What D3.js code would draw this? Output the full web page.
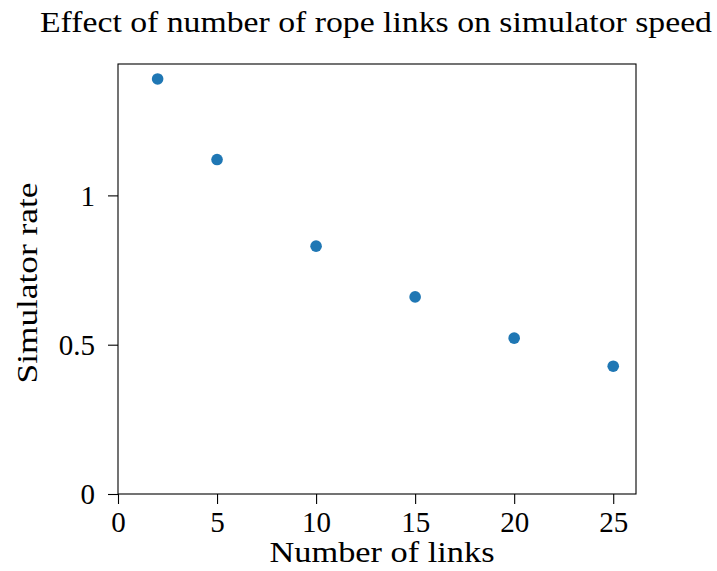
<!DOCTYPE html>
<html>
<head>
<meta charset="utf-8">
<script src="https://cdn.jsdelivr.net/npm/d3@7"></script>
<style>
  body { margin: 0; background: #fff; }
</style>
</head>
<body>
<svg id="chart" width="717" height="571"></svg>
<script>
// data
var links = [2, 5, 10, 15, 20, 25];
var rates = [1.39, 1.12, 0.83, 0.66, 0.522, 0.428];
var xTicks = [0, 5, 10, 15, 20, 25];
var yTicks = [0, 0.5, 1];

var FONT = "Liberation Serif, Times New Roman, serif";

var W = 717, H = 571,
    m = {left: 118, right: 81, top: 64, bottom: 77},
    w = W - m.left - m.right,
    h = H - m.top - m.bottom;

var svg = d3.select("#chart");
var g = svg.append("g").attr("transform", "translate(" + m.left + "," + m.top + ")");

var x = d3.scaleLinear().domain([0, 26.15]).range([0, w]);
var y = d3.scaleLinear().domain([0, 1.44]).range([h, 0]);

// x axis
var xa = g.append("g")
  .attr("transform", "translate(0," + h + ")")
  .call(d3.axisBottom(x).tickValues(xTicks).tickSize(10).tickPadding(7).tickFormat(d3.format("d")));
xa.selectAll("text").attr("font-size", "29px");

// y axis
var ya = g.append("g")
  .call(d3.axisLeft(y).tickValues(yTicks).tickSize(10).tickPadding(13).tickFormat(function (d) { return d; }));
ya.selectAll("text").attr("font-size", "29px").attr("dy", "0.34em");

[xa, ya].forEach(function (a) {
  a.select(".domain").remove();
  a.selectAll("text").style("font-family", FONT).attr("fill", "#000");
  a.selectAll("line").attr("stroke", "#000").attr("stroke-width", 1.1);
});

// frame
g.append("rect")
  .attr("width", w).attr("height", h)
  .attr("fill", "none").attr("stroke", "#000").attr("stroke-width", 1.1);

// points
g.selectAll("circle.pt")
  .data(links)
  .enter()
  .append("circle")
  .attr("class", "pt")
  .attr("cx", function (d) { return x(d); })
  .attr("cy", function (d, i) { return y(rates[i]); })
  .attr("r", 5.8)
  .attr("fill", "#1f77b4");

// labels, stretched a bit to the width of the original LaTeX text
function label(t, width) {
  t.attr("text-anchor", "middle")
   .attr("font-size", "30px")
   .style("font-family", FONT)
   .attr("textLength", width)
   .attr("lengthAdjust", "spacingAndGlyphs");
  return t;
}

label(svg.append("text").attr("x", 376).attr("y", 32), 672)
  .text("Effect of number of rope links on simulator speed");

label(svg.append("text").attr("x", 382).attr("y", 562), 225)
  .text("Number of links");

label(svg.append("text").attr("transform", "translate(37,283) rotate(-90)"), 201)
  .text("Simulator rate");
</script>
</body>
</html>
